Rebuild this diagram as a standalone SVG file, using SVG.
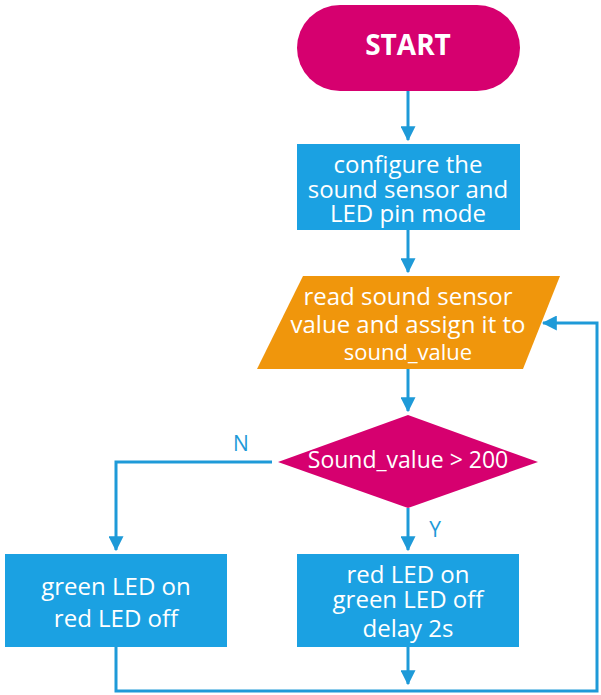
<svg xmlns="http://www.w3.org/2000/svg" width="601" height="695" viewBox="0 0 601 695">
<defs>
<marker id="ah" markerWidth="5" markerHeight="5" refX="4.6" refY="2.5" orient="auto" markerUnits="strokeWidth">
<path d="M0,0 L5,2.5 L0,5 Z" fill="#1E9AD8"/>
</marker>
<style>
.c{fill:none;stroke:#1E9AD8;stroke-width:3}
.t{font-family:"Open Sans","Noto Sans",sans-serif;fill:#fff;text-anchor:middle;font-size:24px}
.lbl{font-family:"Open Sans","Noto Sans",sans-serif;fill:#1E9AD8;font-size:21px;text-anchor:middle}
.blue{fill:#1BA1E2}
</style>
</defs>
<rect width="601" height="695" fill="#fff"/>
<g id="connectors">
<path class="c" d="M408,91 V140" marker-end="url(#ah)"/>
<path class="c" d="M408,230 V272" marker-end="url(#ah)"/>
<path class="c" d="M408,369 V411" marker-end="url(#ah)"/>
<path class="c" d="M272,462 H116 V550" marker-end="url(#ah)"/>
<path class="c" d="M408,508 V550" marker-end="url(#ah)"/>
<path class="c" d="M408,647 V684" marker-end="url(#ah)"/>
<path class="c" d="M116,647 V691 H597 V323 H543" marker-end="url(#ah)"/>
<text class="lbl" x="241" y="451">N</text>
<text class="lbl" x="435" y="537">Y</text>
</g>
<g id="start">
<rect x="297" y="5" width="223" height="86" rx="43" fill="#D6006F"/>
<text class="t" x="408" y="55" style="font-weight:bold;font-size:28px">START</text>
</g>
<g id="configure">
<rect class="blue" x="297" y="144" width="223" height="86"/>
<text class="t" x="408" y="173">configure the</text>
<text class="t" x="408" y="198">sound sensor and</text>
<text class="t" x="408" y="222">LED pin mode</text>
</g>
<g id="read">
<polygon points="303,276 560,276 523,369 257,369" fill="#F0960C"/>
<text class="t" x="408" y="305">read sound sensor</text>
<text class="t" x="408" y="333">value and assign it to</text>
<text class="t" x="408" y="360" style="font-size:22px">sound_value</text>
</g>
<g id="decision">
<polygon points="408,415 538,462 408,508 278,462" fill="#D6006F"/>
<text class="t" x="408" y="468" style="font-size:23px">Sound_value &gt; 200</text>
</g>
<g id="no-branch">
<rect class="blue" x="5" y="554" width="222" height="93"/>
<text class="t" x="116" y="595">green LED on</text>
<text class="t" x="116" y="627">red LED off</text>
</g>
<g id="yes-branch">
<rect class="blue" x="297" y="554" width="222" height="93"/>
<text class="t" x="408" y="583">red LED on</text>
<text class="t" x="408" y="608">green LED off</text>
<text class="t" x="408" y="637">delay 2s</text>
</g>
</svg>
